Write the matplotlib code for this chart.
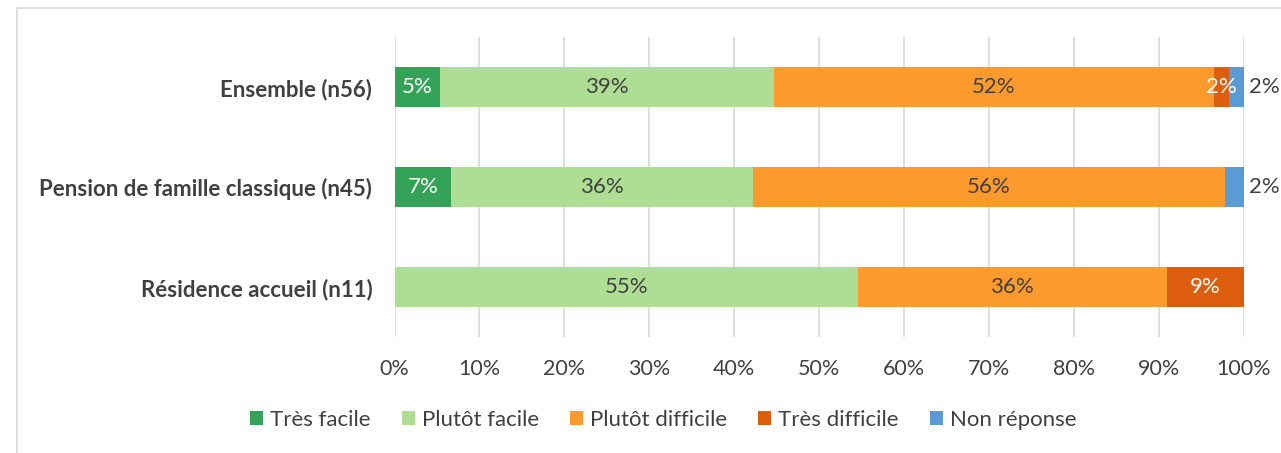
import matplotlib.pyplot as plt
from matplotlib.patches import Rectangle
import numpy as np

categories = ["Ensemble (n56)", "Pension de famille classique (n45)", "Résidence accueil (n11)"]
series = ["Très facile", "Plutôt facile", "Plutôt difficile", "Très difficile", "Non réponse"]
tres_facile = [3 / 56 * 100, 3 / 45 * 100, 0]
plutot_facile = [22 / 56 * 100, 16 / 45 * 100, 6 / 11 * 100]
plutot_difficile = [29 / 56 * 100, 25 / 45 * 100, 4 / 11 * 100]
tres_difficile = [1 / 56 * 100, 0, 1 / 11 * 100]
non_reponse = [1 / 56 * 100, 1 / 45 * 100, 0]
colors = ["#34a357", "#aede94", "#fd9a2d", "#dd5e0f", "#5b9bd5"]
text_colors = ["white", "#404040", "#404040", "white", "#404040"]

plt.rcParams['font.family'] = ['Lato', 'DejaVu Sans']

fig = plt.figure(figsize=(12.81, 4.53), dpi=100)
ax = fig.add_axes([0.308, 0.256, 0.663, 0.662])

# outer frame
fig.patches.append(Rectangle((17 / 1281, -0.01), 1.1, 1 - 8 / 453 + 0.01, transform=fig.transFigure,
                             fill=False, edgecolor="#d9d9d9", linewidth=1.2))

data = [tres_facile, plutot_facile, plutot_difficile, tres_difficile, non_reponse]
y = np.arange(len(categories))
left = np.zeros(len(categories))
for i, vals in enumerate(data):
    vals = np.array(vals)
    ax.barh(y, vals, left=left, height=0.4, color=colors[i], label=series[i], zorder=3)
    for j, v in enumerate(vals):
        if v <= 0:
            continue
        if i == 4:
            ax.text(100.6, y[j], f"{v:.0f}%", va="center", ha="left", fontsize=16, color="#404040")
        else:
            ax.text(left[j] + v / 2, y[j], f"{v:.0f}%", va="center", ha="center", fontsize=16,
                    color=text_colors[i], zorder=4)
    left += vals

ax.set_ylim(2.5, -0.5)
ax.set_xlim(0, 100)
ax.set_xticks(np.arange(0, 101, 10))
ax.set_xticklabels([f"{t}%" for t in range(0, 101, 10)], fontsize=15.5, color="#404040")
ax.set_yticks(y)
ax.set_yticklabels(categories, fontsize=16, fontweight="bold", color="#404040")
ax.tick_params(length=0)
ax.tick_params(axis="x", pad=16)
ax.tick_params(axis="y", pad=16)
for s in ax.spines.values():
    s.set_visible(False)
ax.grid(axis="x", color="#d9d9d9", linewidth=1.2, zorder=0)
ax.set_axisbelow(True)

ax.legend(loc="center", bbox_to_anchor=(663 / 1281, 1 - 420 / 453), bbox_transform=fig.transFigure,
          ncol=5, frameon=False, fontsize=16, handlelength=0.6, handleheight=0.6,
          handletextpad=0.3, columnspacing=1.4, labelcolor="#404040")

fig.savefig("out.png", dpi=100)
